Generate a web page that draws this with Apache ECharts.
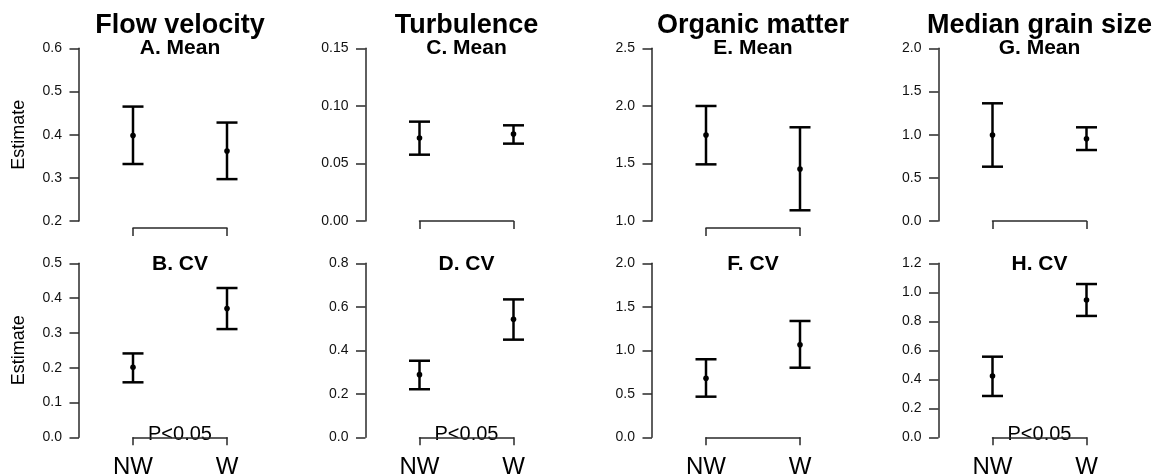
<!DOCTYPE html>
<html>
<head>
<meta charset="utf-8">
<script src="https://cdn.jsdelivr.net/npm/echarts@6/dist/echarts.min.js"></script>
<style>
html,body{margin:0;padding:0;background:#fff;}
#chart{width:1164px;height:476px;}
</style>
</head>
<body>
<div id="chart"></div>
<script>
// ---------- data ----------
const categories = ['NW', 'W'];

const columnTitles = ['Flow velocity', 'Turbulence', 'Organic matter', 'Median grain size'];
const panelTitles = ['A. Mean', 'B. CV', 'C. Mean', 'D. CV', 'E. Mean', 'F. CV', 'G. Mean', 'H. CV'];

// estimate, lower and upper limits (NW, W)
const flowMeanEst = [0.398, 0.362];
const flowMeanLo  = [0.332, 0.297];
const flowMeanHi  = [0.465, 0.428];
const flowCvEst   = [0.201, 0.370];
const flowCvLo    = [0.158, 0.311];
const flowCvHi    = [0.241, 0.429];

const turbMeanEst = [0.0721, 0.0756];
const turbMeanLo  = [0.0576, 0.0672];
const turbMeanHi  = [0.0863, 0.0831];
const turbCvEst   = [0.288, 0.543];
const turbCvLo    = [0.221, 0.449];
const turbCvHi    = [0.352, 0.634];

const orgMeanEst  = [1.747, 1.452];
const orgMeanLo   = [1.492, 1.093];
const orgMeanHi   = [1.999, 1.814];
const orgCvEst    = [0.678, 1.064];
const orgCvLo     = [0.467, 0.800];
const orgCvHi     = [0.897, 1.337];

const grainMeanEst = [0.996, 0.953];
const grainMeanLo  = [0.629, 0.822];
const grainMeanHi  = [1.363, 1.085];
const grainCvEst   = [0.423, 0.947];
const grainCvLo    = [0.285, 0.837];
const grainCvHi    = [0.556, 1.057];

// y-axis ticks (per panel, order A..H)
const yMins      = [0.2, 0.0, 0.00, 0.0, 1.0, 0.0, 0.0, 0.0];
const yMaxs      = [0.6, 0.5, 0.15, 0.8, 2.5, 2.0, 2.0, 1.2];
const yIntervals = [0.1, 0.1, 0.05, 0.2, 0.5, 0.5, 0.5, 0.2];
const yDecimals  = [1, 1, 2, 1, 1, 1, 1, 1];

// significance label per panel
const sigLabels = ['', 'P<0.05', '', 'P<0.05', '', '', '', 'P<0.05'];

const panelEst = [flowMeanEst, flowCvEst, turbMeanEst, turbCvEst, orgMeanEst, orgCvEst, grainMeanEst, grainCvEst];
const panelLo  = [flowMeanLo, flowCvLo, turbMeanLo, turbCvLo, orgMeanLo, orgCvLo, grainMeanLo, grainCvLo];
const panelHi  = [flowMeanHi, flowCvHi, turbMeanHi, turbCvHi, orgMeanHi, orgCvHi, grainMeanHi, grainCvHi];

// ---------- layout ----------
const FONT = '"Liberation Sans", Arial, Helvetica, sans-serif';
const colAxisX = [79, 365.5, 652, 938.5];
const rowTop = [48.3, 263.3];
const rowBottom = [221, 437.3];
const NW_OFF = 54, SPAN = 94;
const AXIS_COLOR = '#2a2a2a';

const chart = echarts.init(document.getElementById('chart'));
const grids = [], xAxes = [], yAxes = [], series = [], graphics = [];

for (let c = 0; c < 4; c++) {
  const cx = colAxisX[c] + NW_OFF + SPAN / 2;
  graphics.push({
    type: 'text', x: cx, y: 26,
    style: { text: columnTitles[c], font: 'bold 27px ' + FONT, fill: '#000', textAlign: 'center', textVerticalAlign: 'middle' }
  });
  for (let r = 0; r < 2; r++) {
    const p = c * 2 + r;
    grids.push({
      left: colAxisX[c] + NW_OFF, width: SPAN,
      top: rowTop[r], height: rowBottom[r] - rowTop[r],
      containLabel: false, outerBoundsMode: 'none'
    });
    xAxes.push({
      gridIndex: p, type: 'category', data: categories, boundaryGap: false,
      position: 'bottom', offset: 7,
      axisLine: { show: true, lineStyle: { color: AXIS_COLOR, width: 1.5 } },
      axisTick: { show: true, length: 8, inside: false, lineStyle: { color: AXIS_COLOR, width: 1.5 } },
      axisLabel: { show: r === 1, margin: 11, fontSize: 24, color: '#000', fontFamily: FONT },
      splitLine: { show: false }
    });
    const dec = yDecimals[p];
    yAxes.push({
      gridIndex: p, type: 'value', min: yMins[p], max: yMaxs[p], interval: yIntervals[p],
      position: 'left', offset: NW_OFF,
      name: c === 0 ? 'Estimate' : '', nameLocation: 'middle', nameGap: 51, nameRotate: 90,
      nameTextStyle: { fontSize: 18, color: '#000', fontFamily: FONT },
      axisLine: { show: true, lineStyle: { color: AXIS_COLOR, width: 1.5 } },
      axisTick: { show: true, length: 9.5, inside: false, lineStyle: { color: AXIS_COLOR, width: 1.5 } },
      axisLabel: { margin: 17, fontSize: 14, color: '#111', fontFamily: FONT, formatter: v => Number(v).toFixed(dec) },
      splitLine: { show: false }
    });
    const est = panelEst[p], lo = panelLo[p], hi = panelHi[p];
    series.push({
      type: 'custom', xAxisIndex: p, yAxisIndex: p, clip: false,
      data: categories.map((name, i) => [i, est[i], lo[i], hi[i]]),
      encode: { x: 0, y: 1 },
      renderItem: function (params, api) {
        const i = api.value(0);
        const pm = api.coord([i, api.value(1)]);
        const pl = api.coord([i, api.value(2)]);
        const ph = api.coord([i, api.value(3)]);
        const hw = 10.5;
        const ls = { stroke: '#000', lineWidth: 2.5 };
        return {
          type: 'group',
          children: [
            { type: 'line', shape: { x1: pl[0], y1: pl[1], x2: ph[0], y2: ph[1] }, style: ls },
            { type: 'line', shape: { x1: pl[0] - hw, y1: pl[1], x2: pl[0] + hw, y2: pl[1] }, style: ls },
            { type: 'line', shape: { x1: ph[0] - hw, y1: ph[1], x2: ph[0] + hw, y2: ph[1] }, style: ls },
            { type: 'circle', shape: { cx: pm[0], cy: pm[1], r: 2.8 }, style: { fill: '#000' } }
          ]
        };
      }
    });
    graphics.push({
      type: 'text', x: cx, y: rowTop[r] + (r === 0 ? 0 : 1),
      style: { text: panelTitles[p], font: 'bold 21px ' + FONT, fill: '#000', textAlign: 'center', textVerticalAlign: 'middle' }
    });
    if (sigLabels[p]) {
      graphics.push({
        type: 'text', x: cx, y: rowBottom[r] - 3,
        style: { text: sigLabels[p], font: '20px ' + FONT, fill: '#000', textAlign: 'center', textVerticalAlign: 'middle' }
      });
    }
  }
}

chart.setOption({
  animation: false,
  backgroundColor: '#fff',
  grid: grids,
  xAxis: xAxes,
  yAxis: yAxes,
  series: series,
  graphic: graphics
});
</script>
</body>
</html>
